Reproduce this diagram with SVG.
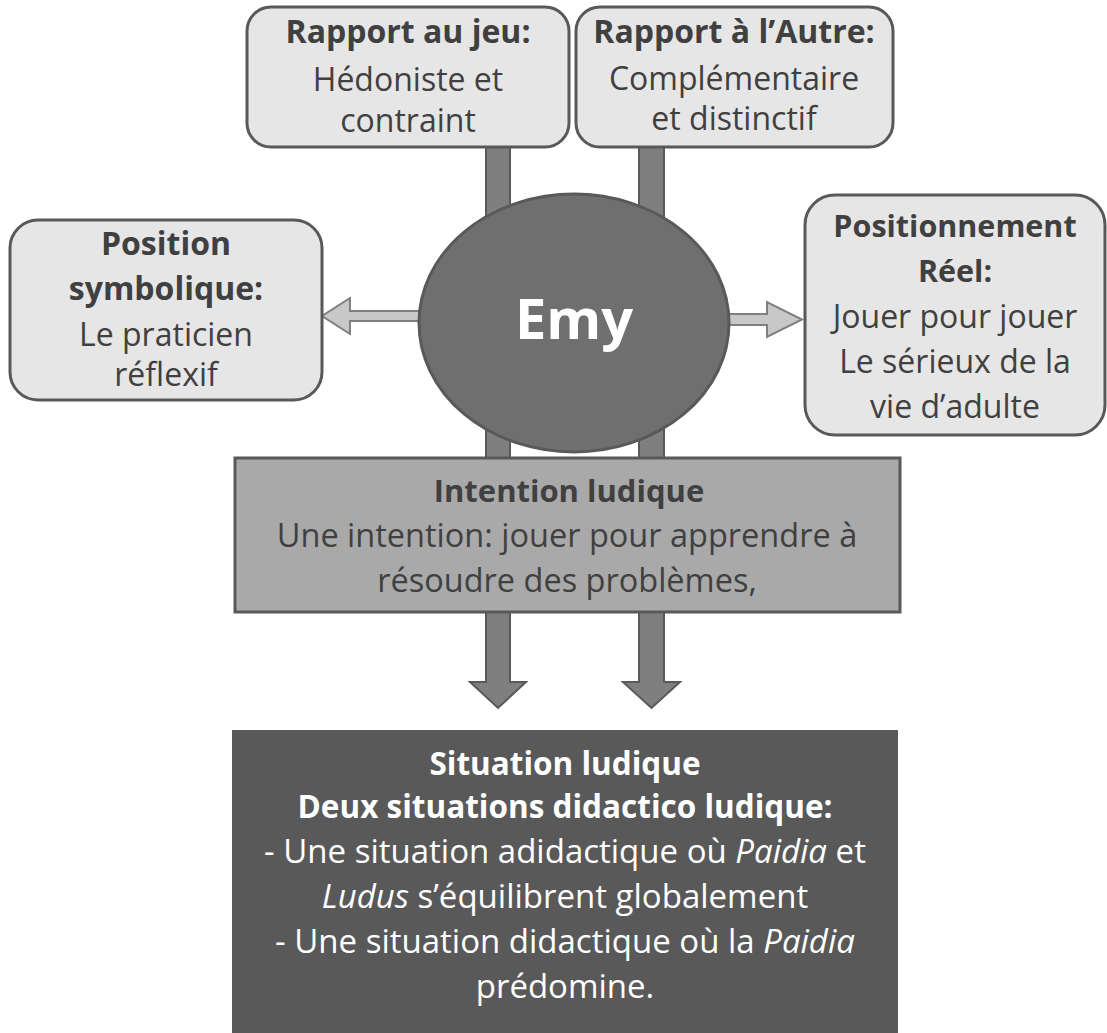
<svg xmlns="http://www.w3.org/2000/svg" width="1107" height="1033" viewBox="0 0 1107 1033">
<style>
text{font-family:"Open Sans","Liberation Sans",sans-serif;text-anchor:middle}
.lb{fill:#e6e6e6;stroke:#595959;stroke-width:3}
.t{fill:#404040;font-size:32px}
.b{font-weight:bold}
.bar{fill:#7f7f7f;stroke:#595959;stroke-width:2}
.harr{fill:#c8c8c8;stroke:#7f7f7f;stroke-width:2}
.w{fill:#ffffff;font-size:33px}
.wb{fill:#ffffff;font-size:31.5px;font-weight:bold}
</style>
<rect width="1107" height="1033" fill="#ffffff"/>
<g id="connectors">
<path class="bar" d="M486,147 H510 V682 H526 L498,708 L470,682 H486 Z"/>
<path class="bar" d="M639,147 H664 V682 H680 L651.5,708 L623,682 H639 Z"/>
<path class="harr" d="M420,311 H350 V298 L322,316 L350,334 V321 H420 Z"/>
<path class="harr" d="M728,314 H767 V302 L802,319.5 L767,337 V325 H728 Z"/>
</g>
<g id="rapport-jeu">
<rect class="lb" x="247" y="7" width="322" height="140" rx="24"/>
<text class="t b" x="408" y="43">Rapport au jeu:</text>
<text class="t" x="408" y="91">Hédoniste et</text>
<text class="t" x="408" y="132">contraint</text>
</g>
<g id="rapport-autre">
<rect class="lb" x="576" y="7" width="317" height="140" rx="24"/>
<text class="t b" x="734" y="43">Rapport à l’Autre:</text>
<text class="t" x="734" y="90">Complémentaire</text>
<text class="t" x="734" y="130">et distinctif</text>
</g>
<g id="position-symbolique">
<rect class="lb" x="10" y="220" width="312" height="180" rx="28"/>
<text class="t b" x="166" y="255">Position</text>
<text class="t b" x="166" y="300">symbolique:</text>
<text class="t" x="166" y="346">Le praticien</text>
<text class="t" x="166" y="386">réflexif</text>
</g>
<g id="positionnement-reel">
<rect class="lb" x="805" y="195" width="300" height="240" rx="30"/>
<text class="t b" x="955" y="237" style="font-size:30.5px">Positionnement</text>
<text class="t b" x="955" y="282" style="font-size:30.5px">Réel:</text>
<text class="t" x="955" y="328">Jouer pour jouer</text>
<text class="t" x="955" y="373">Le sérieux de la</text>
<text class="t" x="955" y="418">vie d’adulte</text>
</g>
<g id="emy">
<ellipse cx="574" cy="323" rx="155" ry="129" fill="#6f6f6f" stroke="#595959" stroke-width="3"/>
<text x="574" y="339" fill="#ffffff" font-size="56" font-weight="bold">Emy</text>
</g>
<g id="intention-ludique">
<rect x="235" y="458" width="665" height="154" fill="#a9a9a9" stroke="#595959" stroke-width="3"/>
<text class="t b" x="569" y="502" style="font-size:31px">Intention ludique</text>
<text class="t" x="567" y="547" style="font-size:32.5px">Une intention: jouer pour apprendre à</text>
<text class="t" x="567" y="592" style="font-size:32.5px">résoudre des problèmes,</text>
</g>
<g id="situation-ludique">
<rect x="232" y="730" width="666" height="310" fill="#595959"/>
<text class="wb" x="565" y="775">Situation ludique</text>
<text class="wb" x="565" y="818">Deux situations didactico ludique:</text>
<text class="w" x="565" y="863">- Une situation adidactique où <tspan font-style="italic">Paidia</tspan> et</text>
<text class="w" x="565" y="908"><tspan font-style="italic">Ludus</tspan> s’équilibrent globalement</text>
<text class="w" x="565" y="953">- Une situation didactique où la <tspan font-style="italic">Paidia</tspan></text>
<text class="w" x="565" y="998">prédomine.</text>
</g>
</svg>
